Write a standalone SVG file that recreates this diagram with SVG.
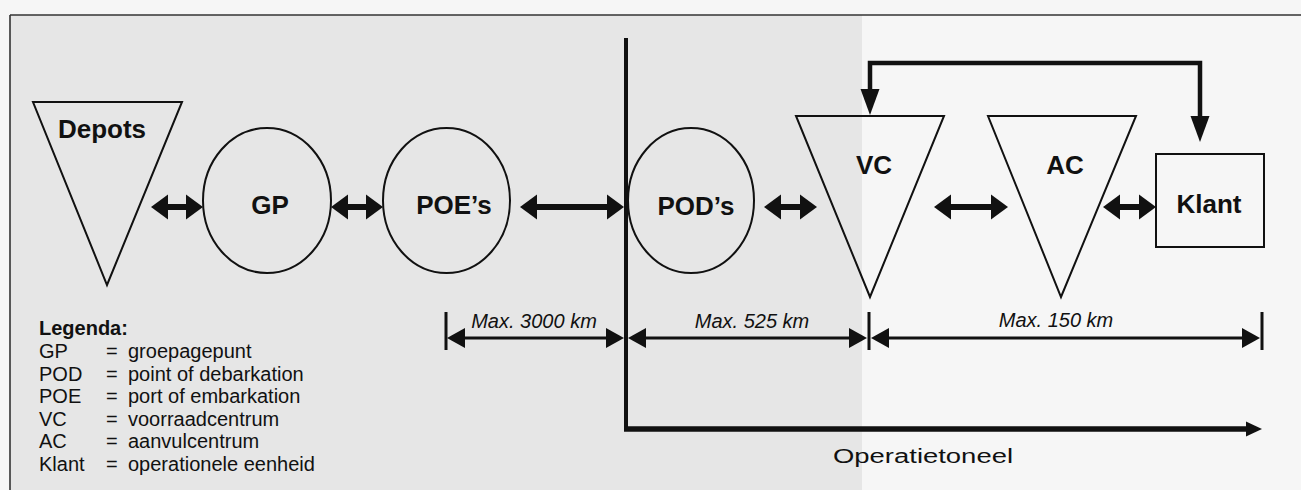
<svg xmlns="http://www.w3.org/2000/svg" width="1301" height="490" viewBox="0 0 1301 490">
  <style>
    .shape { fill: none; stroke: #111; stroke-width: 2; }
    .lbl { font-family: "Liberation Sans", Arial, Helvetica, sans-serif; font-weight: bold; font-size: 26px; fill: #111; text-anchor: middle; }
    .leg { font-family: "Liberation Sans", Arial, Helvetica, sans-serif; font-size: 20px; fill: #111; }
    .dimtxt { font-family: "Liberation Sans", Arial, Helvetica, sans-serif; font-style: italic; font-size: 20px; fill: #111; text-anchor: middle; }
    .flow { stroke: #111; stroke-width: 6; fill: none; marker-start: url(#big); marker-end: url(#big); }
    .dim { stroke: #111; stroke-width: 3; fill: none; marker-start: url(#small); marker-end: url(#small); }
    .tick { stroke: #111; stroke-width: 3; }
    .axis { stroke: #111; fill: none; }
  </style>
  <defs>
    <marker id="big" viewBox="-1 -13 18 26" refX="0" refY="0" markerWidth="18" markerHeight="26" markerUnits="userSpaceOnUse" orient="auto-start-reverse">
      <path d="M-1,-12.5 L16,0 L-1,12.5 Z" fill="#111"/>
    </marker>
    <marker id="small" viewBox="-1 -11 19 22" refX="0" refY="0" markerWidth="19" markerHeight="22" markerUnits="userSpaceOnUse" orient="auto-start-reverse">
      <path d="M-1,-10 L17,0 L-1,10 Z" fill="#111"/>
    </marker>
    <marker id="down" viewBox="-1 -10.5 27 21" refX="0" refY="0" markerWidth="27" markerHeight="21" markerUnits="userSpaceOnUse" orient="auto-start-reverse">
      <path d="M-1,-9.5 L25,0 L-1,9.5 Z" fill="#111"/>
    </marker>
    <marker id="axisend" viewBox="-1 -8 17 16" refX="0" refY="0" markerWidth="17" markerHeight="16" markerUnits="userSpaceOnUse" orient="auto">
      <path d="M-1,-7.5 L15,0 L-1,7.5 Z" fill="#111"/>
    </marker>
  </defs>

  <!-- background -->
  <rect x="0" y="0" width="1301" height="490" fill="#f6f6f6"/>
  <rect x="10" y="15" width="852" height="475" fill="#e6e6e6"/>
  <line x1="10" y1="15" x2="1301" y2="15" stroke="#333" stroke-width="1.6"/>
  <line x1="10" y1="15" x2="10" y2="490" stroke="#333" stroke-width="1.6"/>

  <!-- nodes -->
  <g id="depots">
    <polygon class="shape" points="33,102 182,102 107,285"/>
    <text class="lbl" x="102" y="138">Depots</text>
  </g>
  <g id="gp">
    <ellipse class="shape" cx="267" cy="200.5" rx="64" ry="72.5"/>
    <text class="lbl" x="270" y="214">GP</text>
  </g>
  <g id="poe">
    <ellipse class="shape" cx="446.5" cy="200.5" rx="63.5" ry="72.5"/>
    <text class="lbl" x="454" y="214">POE’s</text>
  </g>
  <g id="pod">
    <ellipse class="shape" cx="691" cy="200.5" rx="63" ry="72.5"/>
    <text class="lbl" x="696" y="215">POD’s</text>
  </g>
  <g id="vc">
    <polygon class="shape" points="796,116 944,116 870,297"/>
    <text class="lbl" x="874" y="174">VC</text>
  </g>
  <g id="ac">
    <polygon class="shape" points="988,116 1136,116 1061,297"/>
    <text class="lbl" x="1065" y="174">AC</text>
  </g>
  <g id="klant">
    <rect class="shape" x="1156" y="154" width="108" height="93"/>
    <text class="lbl" x="1209" y="213">Klant</text>
  </g>

  <!-- connectors -->
  <g id="connectors">
    <line class="flow" x1="167" y1="207" x2="187" y2="207"/>
    <line class="flow" x1="347" y1="207" x2="367" y2="207"/>
    <line class="flow" x1="536" y1="207" x2="608" y2="207"/>
    <line class="flow" x1="780" y1="207" x2="801" y2="207"/>
    <line class="flow" x1="950" y1="207" x2="992" y2="207"/>
    <line class="flow" x1="1119" y1="207" x2="1140" y2="207"/>
    <path d="M870,90 V63 H1200 V117" stroke="#111" stroke-width="4.5" fill="none" marker-start="url(#down)" marker-end="url(#down)"/>
    <!-- theatre boundary -->
    <path class="axis" d="M626,38 V429" stroke-width="4"/>
    <path class="axis" d="M624,429 H1247" stroke-width="5.5" marker-end="url(#axisend)"/>
    <!-- dimension lines -->
    <line class="tick" x1="446" y1="312" x2="446" y2="350"/>
    <line class="tick" x1="869" y1="312" x2="869" y2="350"/>
    <line class="tick" x1="1262" y1="312" x2="1262" y2="350"/>
    <line class="dim" x1="464" y1="338" x2="607" y2="338"/>
    <line class="dim" x1="645" y1="338" x2="850" y2="338"/>
    <line class="dim" x1="888" y1="338" x2="1243" y2="338"/>
  </g>

  <!-- labels -->
  <text class="dimtxt" x="534" y="328">Max. 3000 km</text>
  <text class="dimtxt" x="752" y="328">Max. 525 km</text>
  <text class="dimtxt" x="1056" y="327">Max. 150 km</text>
  <text class="leg" x="833" y="463" font-size="24" textLength="180" lengthAdjust="spacingAndGlyphs">Operatietoneel</text>

  <!-- legend -->
  <g id="legend">
    <text class="leg" x="39" y="335" font-weight="bold">Legenda:</text>
    <text class="leg" x="39" y="358">GP</text><text class="leg" x="106" y="358">=</text><text class="leg" x="128" y="358">groepagepunt</text>
    <text class="leg" x="39" y="381">POD</text><text class="leg" x="106" y="381">=</text><text class="leg" x="128" y="381">point of debarkation</text>
    <text class="leg" x="39" y="403">POE</text><text class="leg" x="106" y="403">=</text><text class="leg" x="128" y="403">port of embarkation</text>
    <text class="leg" x="39" y="426">VC</text><text class="leg" x="106" y="426">=</text><text class="leg" x="128" y="426">voorraadcentrum</text>
    <text class="leg" x="39" y="448">AC</text><text class="leg" x="106" y="448">=</text><text class="leg" x="128" y="448">aanvulcentrum</text>
    <text class="leg" x="39" y="471">Klant</text><text class="leg" x="106" y="471">=</text><text class="leg" x="128" y="471">operationele eenheid</text>
  </g>
</svg>
